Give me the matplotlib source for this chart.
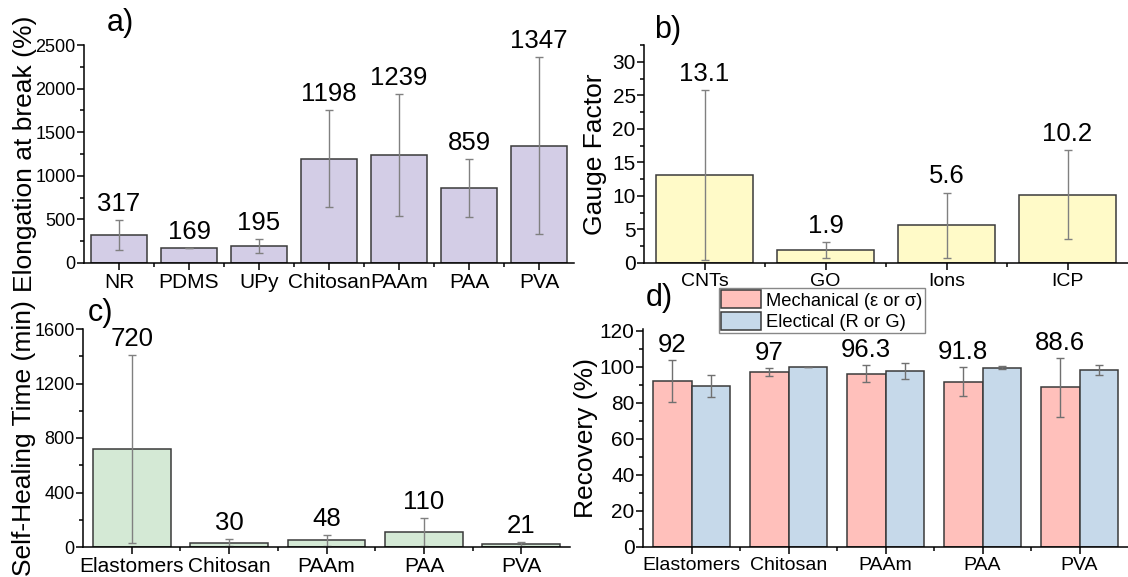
import numpy as np
import matplotlib.pyplot as plt
from matplotlib.ticker import MultipleLocator

plt.rcParams['font.family'] = ['Liberation Sans', 'DejaVu Sans']

# a) elongation at break
elong_cats = ["NR", "PDMS", "UPy", "Chitosan", "PAAm", "PAA", "PVA"]
elong_vals = [317, 169, 195, 1198, 1239, 859, 1347]
elong_err = [172, 0, 77, 553, 697, 330, 1013]

# b) gauge factor
gauge_cats = ["CNTs", "GO", "Ions", "ICP"]
gauge_vals = [13.1, 1.9, 5.6, 10.2]
gauge_err = [12.7, 1.2, 4.9, 6.65]

# c) self-healing time
heal_cats = ["Elastomers", "Chitosan", "PAAm", "PAA", "PVA"]
heal_vals = [720, 30, 48, 110, 21]
heal_err = [690, 26, 40, 100, 16]

# d) recovery
rec_cats = ["Elastomers", "Chitosan", "PAAm", "PAA", "PVA"]
rec_mech = [92, 97, 96.3, 91.8, 88.6]
rec_mech_err = [11.7, 2.3, 4.8, 8.0, 16.5]
rec_elec = [89.4, 100, 97.5, 99.5, 98.1]
rec_elec_err = [6.3, 0, 4.5, 0.8, 2.9]
rec_labels = ["92", "97", "96.3", "91.8", "88.6"]

W, H = 1128, 577
fig = plt.figure(figsize=(W / 100, H / 100), dpi=100)


def axes_px(left, right, top, bottom):
    return fig.add_axes([left / W, 1 - bottom / H, (right - left) / W, (bottom - top) / H])


def style_axes(ax, ylim, major, minor, ylabel, ncat, ysize, xsize, pad):
    ax.set_ylim(*ylim)
    ax.set_xlim(0.5, ncat + 0.5)
    ax.yaxis.set_major_locator(MultipleLocator(major))
    ax.yaxis.set_minor_locator(MultipleLocator(minor))
    ax.set_xticks(np.arange(1, ncat + 1))
    ax.set_xticks(np.arange(1.5, ncat), minor=True)
    for s in ["top", "right"]:
        ax.spines[s].set_visible(False)
    for s in ["left", "bottom"]:
        ax.spines[s].set_linewidth(1.1)
    ax.tick_params(which="major", direction="out", length=5, width=1.1)
    ax.tick_params(which="minor", direction="out", length=3, width=1.1)
    ax.tick_params(axis="y", labelsize=ysize, pad=1)
    ax.tick_params(axis="x", labelsize=xsize, pad=2)
    ax.set_ylabel(ylabel, fontsize=19, labelpad=pad)


def bar_panel(ax, cats, vals, errs, color, fmt):
    x = np.arange(1, len(cats) + 1)
    ax.bar(x, vals, width=0.8, color=color, edgecolor="#3a3a3a", linewidth=1.1)
    ax.errorbar(x, vals, yerr=errs, fmt="none", ecolor="#808080", elinewidth=1, capsize=3, capthick=1)
    ax.set_xticklabels(cats)
    for xi, v, e in zip(x, vals, errs):
        ax.annotate(fmt.format(v), (xi, v + e), xytext=(0, 3), textcoords="offset points",
                    ha="center", va="bottom", fontsize=18.5, annotation_clip=False)


# a)
ax_a = axes_px(84, 574, 45, 263)
bar_panel(ax_a, elong_cats, elong_vals, elong_err, "#d3cde6", "{:d}")
style_axes(ax_a, (0, 2500), 500, 250, "Elongation at break (%)", len(elong_cats), 13, 15, -1)

# b)
ax_b = axes_px(644, 1128, 45, 263)
bar_panel(ax_b, gauge_cats, gauge_vals, gauge_err, "#fffac8", "{:.1f}")
style_axes(ax_b, (0, 32.5), 5, 2.5, "Gauge Factor", len(gauge_cats), 15, 14, 4)

# c)
ax_c = axes_px(83, 570, 329, 547)
bar_panel(ax_c, heal_cats, heal_vals, heal_err, "#d4e9d5", "{:d}")
style_axes(ax_c, (0, 1600), 400, 200, "Self-Healing Time (min)", len(heal_cats), 13, 15, -1)

# d)
ax_d = axes_px(643, 1128, 329, 547)
x = np.arange(1, len(rec_cats) + 1)
w = 0.4
ax_d.bar(x - w / 2, rec_mech, width=w, color="#ffc0bb", edgecolor="#3a3a3a", linewidth=1.1,
         label="Mechanical (ε or σ)")
ax_d.bar(x + w / 2, rec_elec, width=w, color="#c6d9ea", edgecolor="#3a3a3a", linewidth=1.1,
         label="Electical (R or G)")
ax_d.errorbar(x - w / 2, rec_mech, yerr=rec_mech_err, fmt="none", ecolor="#707070",
              elinewidth=1, capsize=3, capthick=1)
ax_d.errorbar(x + w / 2, rec_elec, yerr=rec_elec_err, fmt="none", ecolor="#707070",
              elinewidth=1, capsize=3, capthick=1)
ax_d.set_xticklabels(rec_cats)
for xi, v, e, t in zip(x, rec_mech, rec_mech_err, rec_labels):
    ax_d.annotate(t, (xi - w / 2, v + e), xytext=(0, 2), textcoords="offset points",
                  ha="center", va="bottom", fontsize=18.5, annotation_clip=False)
style_axes(ax_d, (0, 121), 20, 10, "Recovery (%)", len(rec_cats), 15, 14, 1)

leg = fig.legend(loc="upper left", bbox_to_anchor=(719 / W, 1 - 288 / H), fontsize=13.2,
                 handlelength=2.15, handleheight=1.15, handletextpad=0.3, labelspacing=0.12,
                 borderpad=0.12, borderaxespad=0, fancybox=False, framealpha=1)
leg.get_frame().set_edgecolor("#888888")

# panel letters
fig.text(107 / W, 1 - 23 / H, "a)", fontsize=22, va="center")
fig.text(654 / W, 1 - 30 / H, "b)", fontsize=22, va="center")
fig.text(88 / W, 1 - 313 / H, "c)", fontsize=22, va="center")
fig.text(646 / W, 1 - 298 / H, "d)", fontsize=22, va="center")

fig.savefig("out.png", dpi=100)
